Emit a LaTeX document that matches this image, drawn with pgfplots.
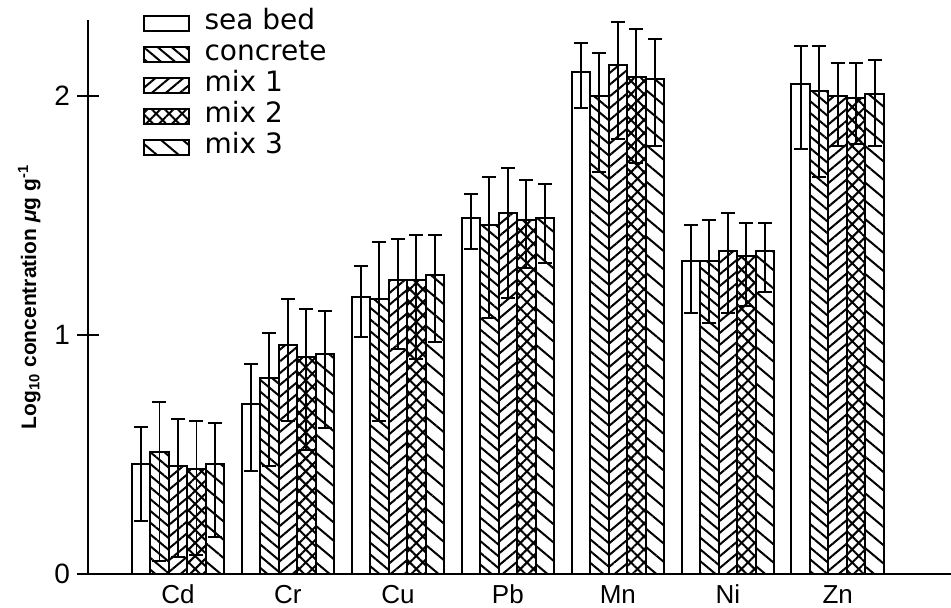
\documentclass[border=0pt]{standalone}
\usepackage{pgfplots}
\pgfplotsset{compat=1.18}
\usepackage{pgfplotstable}
\usetikzlibrary{patterns.meta}
\usepackage{fontspec}
\setmainfont{Liberation Sans}
\setsansfont{Liberation Sans}
\newfontfamily\legfont{DejaVu Sans}

% columns: x, value, error plus, error minus for each series
\pgfplotstableread{
x  sb    sbp   sbm   co    cop   com   ma    map   mam   mb    mbp   mbm   mc    mcp   mcm
0  0.46  0.155 0.24  0.51  0.21  0.455 0.45  0.20  0.38  0.44  0.20  0.36  0.46  0.17  0.305
1  0.71  0.17  0.28  0.82  0.19  0.37  0.96  0.19  0.32  0.91  0.20  0.39  0.92  0.18  0.31
2  1.16  0.13  0.17  1.15  0.24  0.51  1.23  0.17  0.29  1.23  0.19  0.33  1.25  0.17  0.28
3  1.49  0.10  0.13  1.46  0.20  0.39  1.51  0.19  0.355 1.48  0.17  0.20  1.49  0.14  0.19
4  2.10  0.12  0.15  2.00  0.18  0.32  2.13  0.18  0.31  2.08  0.20  0.36  2.07  0.17  0.28
5  1.31  0.15  0.22  1.31  0.17  0.26  1.35  0.16  0.26  1.33  0.14  0.21  1.35  0.12  0.17
6  2.05  0.16  0.27  2.02  0.19  0.36  2.00  0.14  0.21  1.99  0.15  0.19  2.01  0.14  0.22
}\data

\begin{document}
\begin{tikzpicture}
\useasboundingbox (-44bp,-17bp) rectangle (431.5bp,287bp);
\begin{axis}[
  at={(0,0)}, anchor=south west,
  scale only axis,
  width=431.5bp, height=277bp,
  xmin=-0.818, xmax=7.03,
  ymin=0, ymax=2.318,
  axis lines*=left,
  axis line style={line width=0.75bp},
  ybar=0pt, bar width=9.25bp,
  xtick={0,1,2,3,4,5,6},
  xticklabels={Cd,Cr,Cu,Pb,Mn,Ni,Zn},
  x tick style={draw=none},
  ytick={0,1,2},
  y tick style={line width=0.75bp, black},
  tick align=center,
  major tick length=11bp,
  /pgf/number format/assume math mode=true,
  yticklabel style={font=\fontsize{14bp}{16bp}\selectfont},
  xticklabel style={font=\fontsize{13bp}{15bp}\selectfont, anchor=north,
    text height=9.5bp, text depth=0pt, inner sep=0pt, yshift=0.5bp},
  ylabel={\textbf{Log\textsubscript{10} concentration \textit{μ}g g\textsuperscript{-1}}},
  ylabel style={at={(axis description cs:-0.068,0.5)}, anchor=center,
    font=\fontsize{10.5bp}{12bp}\selectfont},
  every axis plot/.append style={draw=black, line width=1bp},
  error bars/y dir=both,
  error bars/y explicit,
  error bars/error bar style={line width=0.95bp, black},
  error bars/error mark options={rotate=90, mark size=3.5bp, line width=1bp},
  legend style={at={(0.056,1.03)}, anchor=north west, draw=none, fill=none,
    font=\legfont\fontsize{14bp}{15bp}\selectfont, row sep=0pt,
    nodes={inner sep=0.5bp, text height=10.5bp, text depth=4bp},
    /tikz/every odd column/.append style={column sep=7bp}},
  legend cell align=left,
  legend image code/.code={\draw[#1, line width=0.9bp] (0bp,-3.75bp) rectangle (22.5bp,3.75bp);},
]
\addplot[fill=white] table[x=x, y=sb, y error plus=sbp, y error minus=sbm] {\data};
\addlegendentry{sea bed}
\addplot[pattern={Lines[angle=-40,distance=4.5bp,line width=1bp]}] table[x=x, y=co, y error plus=cop, y error minus=com] {\data};
\addlegendentry{concrete}
\addplot[pattern={Lines[angle=40,distance=4.5bp,line width=1bp]}] table[x=x, y=ma, y error plus=map, y error minus=mam] {\data};
\addlegendentry{mix 1}
\addplot[pattern={Hatch[angle=45,distance=4.6bp,line width=1bp]}] table[x=x, y=mb, y error plus=mbp, y error minus=mbm] {\data};
\addlegendentry{mix 2}
\addplot[pattern={Lines[angle=-40,distance=7bp,line width=1bp]}] table[x=x, y=mc, y error plus=mcp, y error minus=mcm] {\data};
\addlegendentry{mix 3}
\end{axis}
\end{tikzpicture}
\end{document}
